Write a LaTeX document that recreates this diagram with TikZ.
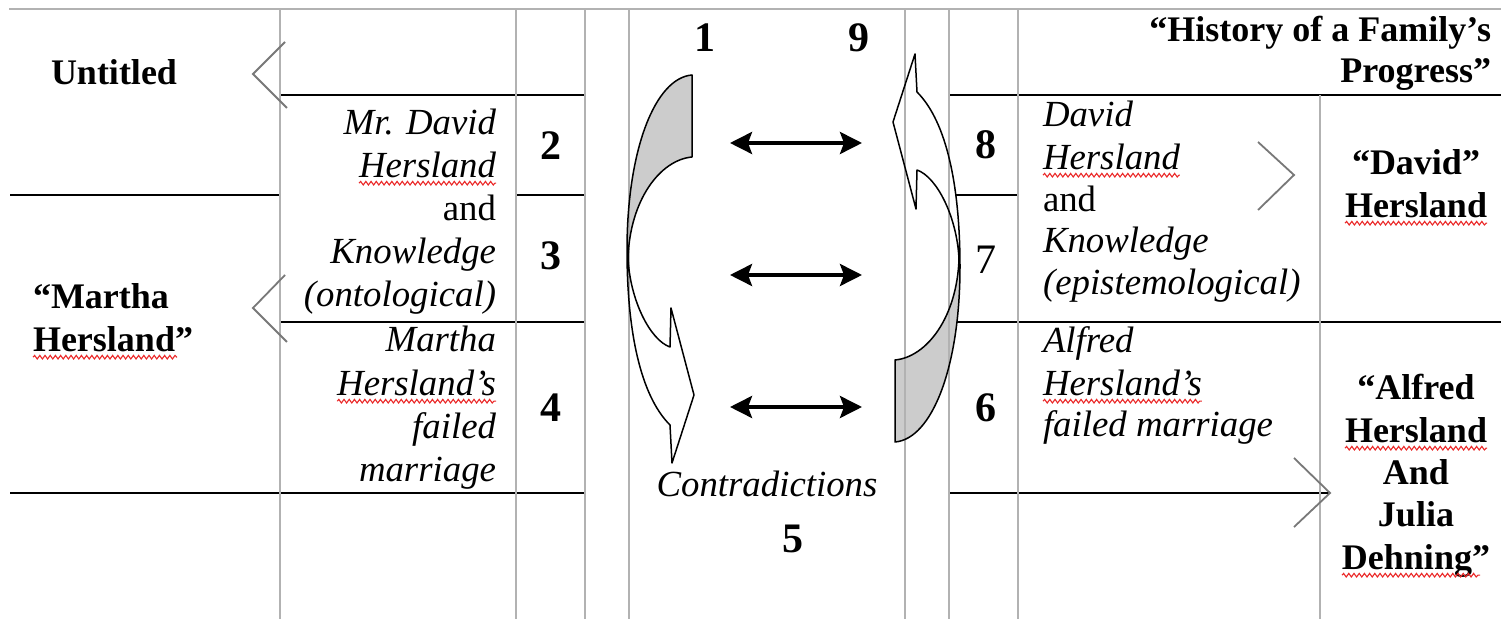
\documentclass[tikz,border=0pt]{standalone}
\usepackage{fontspec}
\setmainfont{Liberation Serif}
\usetikzlibrary{arrows.meta,decorations.pathmorphing}

\definecolor{rulegray}{RGB}{178,178,178}
\definecolor{chevgray}{RGB}{120,120,120}
\definecolor{bandgray}{RGB}{204,204,204}
\definecolor{spellred}{RGB}{235,40,40}

\begin{document}
\begin{tikzpicture}[x=0.5pt,y=-0.5pt,
  every node/.style={inner sep=0pt, outer sep=0pt},
  gridline/.style={draw=rulegray, line width=0.9pt},
  cellline/.style={draw=black, line width=1pt},
  chevron/.style={draw=chevgray, line width=0.9pt},
  bandline/.style={draw=black, line width=0.75pt, line join=round},
  linkarrow/.style={line width=1.8pt,
    {Stealth[length=11pt,width=11pt,inset=2pt]}-{Stealth[length=11pt,width=11pt,inset=2pt]}},
  spellmark/.style={draw=spellred, line width=0.55pt, decorate,
    decoration={snake, amplitude=0.9pt, segment length=2.6pt}},
  txt/.style={font=\fontsize{18.4}{22}\selectfont},
  it/.style={font=\fontsize{18.4}{22}\selectfont\itshape},
  bf/.style={font=\fontsize{18}{21}\selectfont\bfseries},
  numeral/.style={font=\fontsize{21}{25}\selectfont\bfseries}]

\useasboundingbox (0,0) rectangle (1501,619);
\fill[white] (0,0) rectangle (1501,619);

% black cell borders
\draw[cellline] (280,95) -- (585,95);
\draw[cellline] (949,95) -- (1501,95);
\draw[cellline] (10,195) -- (280,195);
\draw[cellline] (516,195) -- (585,195);
\draw[cellline] (949,195) -- (1018,195);
\draw[cellline] (280,322) -- (585,322);
\draw[cellline] (949,322) -- (1501,322);
\draw[cellline] (10,493) -- (585,493);
\draw[cellline] (949,493) -- (1330,493);

% filled bodies of the two curved arrows
\foreach \r in {0,180}{
  \begin{scope}[rotate around={\r:(793.5,258.5)}]
    \fill[white] (692,75) .. controls (655,78) and (627,150) .. (627,250)
      .. controls (627,330) and (640,395) .. (670,425) -- (672,463) -- (694,395)
      -- (671,308) -- (670,347) .. controls (650,340) and (630,300) .. (628,258)
      .. controls (630,200) and (660,160) .. (692,157) -- cycle;
    \fill[bandgray] (692,75) .. controls (655,78) and (627,150) .. (627,250)
      -- (628,258) .. controls (630,200) and (660,160) .. (692,157) -- cycle;
  \end{scope}
}

% gray table rules
\draw[gridline] (9,9) -- (1501,9);
\foreach \x in {280,516,585,629,905,949,1018}
  \draw[gridline] (\x,9) -- (\x,619);
\draw[gridline] (1320,95) -- (1320,619);

% outlines of the two curved arrows
\foreach \r in {0,180}{
  \begin{scope}[rotate around={\r:(793.5,258.5)}]
    \draw[bandline] (692,75) .. controls (655,78) and (627,150) .. (627,250)
      .. controls (627,330) and (640,395) .. (670,425) -- (672,463) -- (694,395)
      -- (671,308) -- (670,347) .. controls (650,340) and (630,300) .. (628,258)
      .. controls (630,200) and (660,160) .. (692,157) -- cycle;
  \end{scope}
}

% open chevrons
\draw[chevron] (285,42) -- (253,74) -- (287,108);
\draw[chevron] (285,275) -- (253,308) -- (287,342);
\draw[chevron] (1258,142) -- (1294,175) -- (1258,210);
\draw[chevron] (1294,458) -- (1330,493) -- (1294,527);

% double-headed links between the two loops
\coordinate (lA) at (730,143); \coordinate (rA) at (862,143);
\coordinate (lB) at (730,275); \coordinate (rB) at (862,275);
\coordinate (lC) at (730,407); \coordinate (rC) at (862,407);
\draw[linkarrow] (lA) -- (rA);
\draw[linkarrow] (lB) -- (rB);
\draw[linkarrow] (lC) -- (rC);

% left column
\node[bf, anchor=base] (untitled) at (114,85) {Untitled};
\node[bf, anchor=base west] (martha1) at (33,309) {“Martha};
\node[bf, anchor=base west] (martha2) at (33,352) {Hersland”};

% second column
\node[it, anchor=base east] (m1) at (496,135) {Mr. David};
\node[it, anchor=base east] (m2) at (496,178) {Hersland};
\node[txt, anchor=base east] (m3) at (496,221) {and};
\node[it, anchor=base east] (m4) at (496,264) {Knowledge};
\node[it, anchor=base east] (m5) at (496,307) {(ontological)};
\node[it, anchor=base east] (m6) at (496,352) {Martha};
\node[it, anchor=base east] (m7) at (496,396) {Hersland’s};
\node[it, anchor=base east] (m8) at (496,439) {failed};
\node[it, anchor=base east] (m9) at (496,482) {marriage};

% numbers
\node[numeral, anchor=base] (n2) at (551,160) {2};
\node[numeral, anchor=base] (n3) at (551,270) {3};
\node[numeral, anchor=base] (n4) at (551,422) {4};
\node[numeral, anchor=base] (n1) at (705,52) {1};
\node[numeral, anchor=base] (n9) at (859,52) {9};
\node[numeral, anchor=base] (n8) at (986,159) {8};
\node[font=\fontsize{21}{25}\selectfont, anchor=base] (n7) at (986,274) {7};
\node[numeral, anchor=base] (n6) at (986,422) {6};
\node[it, anchor=base] (contra) at (767,497) {Contradictions};
\node[numeral, anchor=base] (n5) at (793,553) {5};

% right text column
\node[it, anchor=base west] (r1) at (1043,127) {David};
\node[it, anchor=base west] (r2) at (1043,170) {Hersland};
\node[txt, anchor=base west] (r3) at (1043,212) {and};
\node[it, anchor=base west] (r4) at (1043,253) {Knowledge};
\node[it, anchor=base west] (r5) at (1043,295) {(epistemological)};
\node[it, anchor=base west] (r6) at (1043,353) {Alfred};
\node[it, anchor=base west] (r7) at (1043,396) {Hersland’s};
\node[it, anchor=base west] (r8) at (1043,437) {failed marriage};

% titles on the right
\node[bf, anchor=base east] (h1) at (1491,42) {“History of a Family’s};
\node[bf, anchor=base east] (h2) at (1491,83) {Progress”};
\node[bf, anchor=base] (d1) at (1416,175) {“David”};
\node[bf, anchor=base] (d2) at (1416,218) {Hersland};
\node[bf, anchor=base] (a1) at (1416,400) {“Alfred};
\node[bf, anchor=base] (a2) at (1416,443) {Hersland};
\node[bf, anchor=base] (a3) at (1416,485) {And};
\node[bf, anchor=base] (a4) at (1416,527) {Julia};
\node[bf, anchor=base] (a5) at (1416,570) {Dehning”};

% spelling marks under names
\foreach \n in {m2,m7,r2,r7,d2,a2}
  \draw[spellmark] ([yshift=-2.6pt]\n.base west) -- ([yshift=-2.6pt]\n.base east);
\draw[spellmark] ([yshift=-2.6pt]martha2.base west) -- ([xshift=-8pt,yshift=-2.6pt]martha2.base east);
\draw[spellmark] ([yshift=-2.6pt]a5.base west) -- ([xshift=-5pt,yshift=-2.6pt]a5.base east);
\end{tikzpicture}
\end{document}
